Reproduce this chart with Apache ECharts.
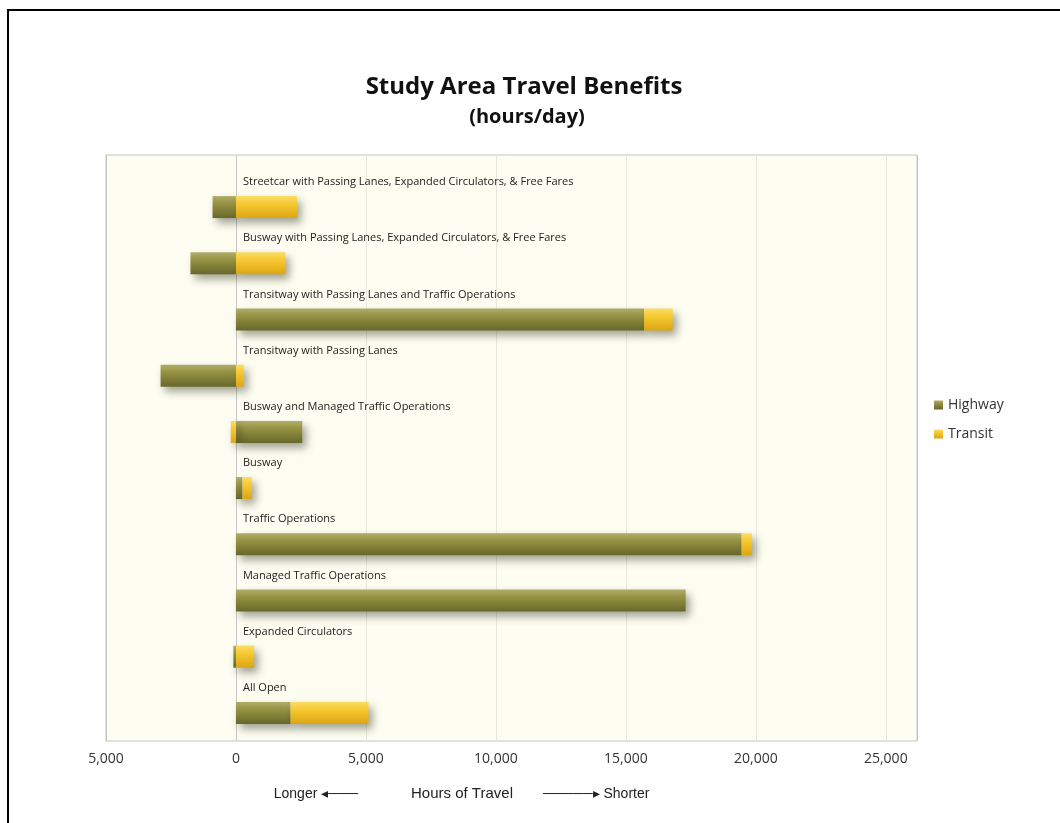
<!DOCTYPE html>
<html>
<head>
<meta charset="utf-8">
<script src="https://cdn.jsdelivr.net/npm/echarts@6/dist/echarts.min.js"></script>
<style>
  html, body { margin: 0; padding: 0; background: #ffffff; }
  #chart { width: 1060px; height: 823px; position: absolute; left: 0; top: 0; }
  #frame { position: absolute; left: 7px; top: 9px; width: 1100px; height: 900px;
           border-top: 2px solid #000; border-left: 2px solid #000; pointer-events: none; }
</style>
</head>
<body>
<div id="chart"></div>
<div id="frame"></div>
<script>
// ---- data (top to bottom) ----
const categories = [
  'Streetcar with Passing Lanes, Expanded Circulators, & Free Fares',
  'Busway with Passing Lanes, Expanded Circulators, & Free Fares',
  'Transitway with Passing Lanes and Traffic Operations',
  'Transitway with Passing Lanes',
  'Busway and Managed Traffic Operations',
  'Busway',
  'Traffic Operations',
  'Managed Traffic Operations',
  'Expanded Circulators',
  'All Open'
];
const highway = [-900, -1750, 15700, -2900, 2550, 250, 19450, 17300, -100, 2100];
const transit = [2350, 1900, 1100, 300, -200, 350, 400, 0, 700, 3000];
const xMin = -5000;
const xMax = 26200;
const xStep = 5000;
const seriesNames = ['Highway', 'Transit'];

const gridLeft = 106, gridRight = 143, chartW = 1060;
const plotW = chartW - gridLeft - gridRight;
// label margin so category labels start just right of the zero line
const labelMargin = (0 - xMin) / (xMax - xMin) * plotW + 7;

const chart = echarts.init(document.getElementById('chart'), null, { renderer: 'canvas' });

const fmt = v => (v % xStep === 0) ? Math.abs(v).toLocaleString('en-US') : '';

const shadow = { shadowColor: 'rgba(50,50,30,0.45)', shadowBlur: 9, shadowOffsetX: 4, shadowOffsetY: 5 };
const bottomFont = { fontFamily: 'Liberation Sans', fontWeight: 'normal', fontSize: 14, color: '#222' };

const option = {
  backgroundColor: '#ffffff',
  animation: false,
  title: [
    { text: 'Study Area Travel Benefits', left: 519, top: 70, textAlign: 'center',
      textStyle: { fontFamily: 'Open Sans', fontWeight: 'bold', fontSize: 24, color: '#111' } },
    { text: '(hours/day)', left: 522, top: 102, textAlign: 'center',
      textStyle: { fontFamily: 'Open Sans', fontWeight: 'bold', fontSize: 20, color: '#111' } },
    { text: 'Longer \u25C2\u2500\u2500\u2500', left: 358, top: 787, padding: 0, textAlign: 'right', textStyle: bottomFont },
    { text: 'Hours of Travel', left: 462, top: 786, padding: 0, textAlign: 'center', textStyle: Object.assign({}, bottomFont, { fontSize: 15 }) },
    { text: '\u2500\u2500\u2500\u2500\u2500\u25B8 Shorter', left: 543, top: 787, padding: 0, textAlign: 'left', textStyle: bottomFont }
  ],
  legend: {
    orient: 'vertical', left: 929, top: 393, itemWidth: 9, itemHeight: 9, itemGap: 15,
    icon: 'rect', data: seriesNames,
    textStyle: { fontFamily: 'Open Sans', fontSize: 14, color: '#333' }
  },
  grid: [
    { left: gridLeft, right: gridRight, top: 179, bottom: 82, show: false },
    { left: gridLeft, right: gridRight, top: 155, bottom: 82, show: true, backgroundColor: '#fdfdf1',
      borderColor: '#c4c4c0', borderWidth: 1, z: 0 }
  ],
  xAxis: [
    { gridIndex: 0, type: 'value', min: xMin, max: xMax, show: false },
    { gridIndex: 1, type: 'value', min: xMin, max: xMax, interval: xStep,
      axisLine: { show: false }, axisTick: { show: false },
      axisLabel: { formatter: fmt, margin: 11, fontFamily: 'Open Sans', fontSize: 14, color: '#333' },
      splitLine: { show: true, lineStyle: { width: 1,
        color: ['#c4c4c0', '#c8c8c4', '#e8e8dc', '#e8e8dc', '#e8e8dc', '#e8e8dc', '#e8e8dc', '#c4c4c0'] } } }
  ],
  yAxis: [
    { gridIndex: 0, type: 'category', data: categories, inverse: true,
      axisLine: { show: false }, axisTick: { show: false },
      axisLabel: { inside: true, interval: 0, margin: labelMargin, lineHeight: 50,
        formatter: v => v + '\n ',
        fontFamily: 'Open Sans', fontSize: 11, color: '#222' } },
    { gridIndex: 1, type: 'value', show: false }
  ],
  series: [
    { name: seriesNames[0], type: 'bar', stack: 'total', xAxisIndex: 0, yAxisIndex: 0,
      barWidth: 22, data: highway,
      itemStyle: Object.assign({
        color: new echarts.graphic.LinearGradient(0, 0, 0, 1, [
          { offset: 0, color: '#b0ad6a' }, { offset: 0.35, color: '#959243' }, { offset: 1, color: '#67672a' }
        ]) }, shadow) },
    { name: seriesNames[1], type: 'bar', stack: 'total', xAxisIndex: 0, yAxisIndex: 0,
      barWidth: 22, data: transit,
      itemStyle: Object.assign({
        color: new echarts.graphic.LinearGradient(0, 0, 0, 1, [
          { offset: 0, color: '#fbdc62' }, { offset: 0.4, color: '#f5c62e' }, { offset: 1, color: '#dba614' }
        ]) }, shadow) }
  ]
};
chart.setOption(option);
</script>
</body>
</html>
